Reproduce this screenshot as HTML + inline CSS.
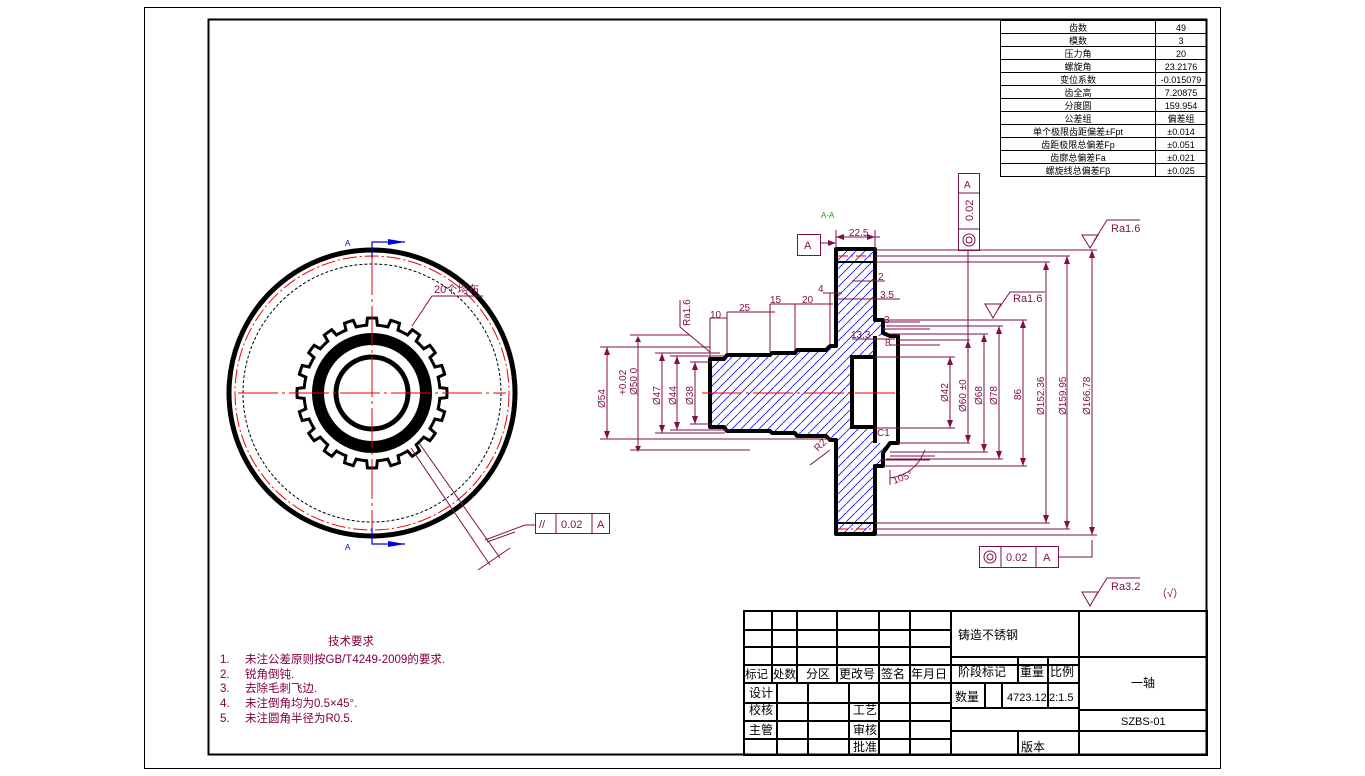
<!DOCTYPE html>
<html><head><meta charset="utf-8"><style>
html,body{margin:0;padding:0;background:#fff;}
svg{display:block;}
text{font-family:"Liberation Sans","Noto Sans CJK SC",sans-serif;}
</style></head><body>
<svg width="1365" height="776" viewBox="0 0 1365 776" xmlns="http://www.w3.org/2000/svg">
<defs>
<pattern id="h" patternUnits="userSpaceOnUse" width="9" height="9">
<line x1="-1" y1="10" x2="10" y2="-1" stroke="#1a1aff" stroke-width="0.9"/>
</pattern>
<path id="tooth" d="M-10.64,-67.16 A68 68 0 0 1 -5.34,-67.79 L-4.58,-74.86 A75 75 0 0 1 4.58,-74.86 L5.34,-67.79 A68 68 0 0 1 10.64,-67.16" fill="none" stroke="#000" stroke-width="3"/>
</defs>
<rect width="1365" height="776" fill="#fff"/>
<!-- frames -->
<rect x="144.5" y="7.5" width="1076" height="761" fill="none" stroke="#000" stroke-width="1"/>
<rect x="208.5" y="19.5" width="998" height="735" fill="none" stroke="#000" stroke-width="2"/>

<!-- parameter table -->
<g stroke="#000" stroke-width="1" fill="none">
<rect x="1000.5" y="20.5" width="206" height="156"/>
<line x1="1155.5" y1="20" x2="1155.5" y2="177"/>
<path d="M1000 33.5H1207M1000 46.5H1207M1000 59.5H1207M1000 72.5H1207M1000 85.5H1207M1000 98.5H1207M1000 111.5H1207M1000 124.5H1207M1000 137.5H1207M1000 150.5H1207M1000 163.5H1207"/>
</g>
<g font-size="9" fill="#000" text-anchor="middle">
<text x="1078" y="31">齿数</text><text x="1181" y="31">49</text>
<text x="1078" y="44">模数</text><text x="1181" y="44">3</text>
<text x="1078" y="57">压力角</text><text x="1181" y="57">20</text>
<text x="1078" y="70">螺旋角</text><text x="1181" y="70">23.2176</text>
<text x="1078" y="83">变位系数</text><text x="1181" y="83">-0.015079</text>
<text x="1078" y="96">齿全高</text><text x="1181" y="96">7.20875</text>
<text x="1078" y="109">分度圆</text><text x="1181" y="109">159.954</text>
<text x="1078" y="122">公差组</text><text x="1181" y="122">偏差组</text>
<text x="1078" y="135">单个极限齿距偏差±Fpt</text><text x="1181" y="135">±0.014</text>
<text x="1078" y="148">齿距极限总偏差Fp</text><text x="1181" y="148">±0.051</text>
<text x="1078" y="161">齿廓总偏差Fa</text><text x="1181" y="161">±0.021</text>
<text x="1078" y="174">螺旋线总偏差Fβ</text><text x="1181" y="174">±0.025</text>
</g>

<!-- title block -->
<g stroke="#000" stroke-width="2" fill="none">
<rect x="744" y="611" width="463" height="144"/>
<line x1="744" y1="630" x2="951" y2="630"/>
<line x1="744" y1="647" x2="951" y2="647"/>
<line x1="744" y1="665" x2="1079" y2="665"/>
<line x1="744" y1="683" x2="1079" y2="683"/>
<line x1="744" y1="703" x2="951" y2="703"/>
<line x1="744" y1="721" x2="951" y2="721"/>
<line x1="744" y1="739" x2="951" y2="739"/>
<path d="M772 611V683M797 611V683M837 611V683M879 611V755M910 611V755M951 611V755"/>
<path d="M777 683V755M808 683V755M849 683V755"/>
<line x1="1079" y1="611" x2="1079" y2="755"/>
<line x1="951" y1="657" x2="1207" y2="657"/>
<line x1="951" y1="708" x2="1079" y2="708"/>
<line x1="951" y1="731" x2="1079" y2="731"/>
<line x1="1079" y1="710" x2="1207" y2="710"/>
<line x1="1079" y1="731" x2="1207" y2="731"/>
<path d="M1018 657V683M1048 657V708M985 683V708M1002 683V708M1018 731V755"/>
</g>
<g font-size="12" fill="#000">
<text x="958" y="639">铸造不锈钢</text>
<text x="745" y="678" font-size="11.5">标记</text><text x="773" y="678" font-size="11.5">处数</text>
<text x="806" y="678">分区</text><text x="839" y="678">更改号</text><text x="881" y="678">签名</text><text x="911" y="678">年月日</text>
<text x="958" y="676">阶段标记</text><text x="1020" y="676">重量</text><text x="1050" y="676">比例</text>
<text x="1131" y="687">一轴</text>
<text x="749" y="697">设计</text><text x="749" y="714">校核</text><text x="749" y="734">主管</text>
<text x="853" y="714">工艺</text><text x="853" y="734">审核</text><text x="853" y="751">批准</text>
<text x="955" y="701">数量</text><text x="1007" y="701" font-size="11">4723.12</text><text x="1049" y="701" font-size="11">2:1.5</text>
<text x="1121" y="725" font-size="11">SZBS-01</text>
<text x="1021" y="751">版本</text>
</g>

<!-- technical requirements -->
<g font-size="11.5" fill="#800040">
<text x="328" y="645">技术要求</text>
<text x="220" y="663">1.</text><text x="245" y="663">未注公差原则按GB/T4249-2009的要求.</text>
<text x="220" y="678">2.</text><text x="245" y="678">锐角倒钝.</text>
<text x="220" y="692">3.</text><text x="245" y="692">去除毛刺飞边.</text>
<text x="220" y="707">4.</text><text x="245" y="707">未注倒角均为0.5×45°.</text>
<text x="220" y="722">5.</text><text x="245" y="722">未注圆角半径为R0.5.</text>
</g>

<!-- FRONT VIEW -->
<g>
<circle cx="372" cy="393" r="143" fill="none" stroke="#000" stroke-width="5"/>
<circle cx="372" cy="393" r="137" fill="none" stroke="#e00" stroke-width="1" stroke-dasharray="14 3 2 3"/>
<circle cx="372" cy="393" r="129" fill="none" stroke="#000" stroke-width="1" stroke-dasharray="3 2"/>
<circle cx="372" cy="393" r="54" fill="none" stroke="#000" stroke-width="12"/>
<circle cx="372" cy="393" r="36" fill="none" stroke="#000" stroke-width="5"/>
<g transform="translate(372 393)">
<use href="#tooth"/>
<use href="#tooth" transform="rotate(18)"/><use href="#tooth" transform="rotate(36)"/><use href="#tooth" transform="rotate(54)"/><use href="#tooth" transform="rotate(72)"/>
<use href="#tooth" transform="rotate(90)"/><use href="#tooth" transform="rotate(108)"/><use href="#tooth" transform="rotate(126)"/><use href="#tooth" transform="rotate(144)"/>
<use href="#tooth" transform="rotate(162)"/><use href="#tooth" transform="rotate(180)"/><use href="#tooth" transform="rotate(198)"/><use href="#tooth" transform="rotate(216)"/>
<use href="#tooth" transform="rotate(234)"/><use href="#tooth" transform="rotate(252)"/><use href="#tooth" transform="rotate(270)"/><use href="#tooth" transform="rotate(288)"/>
<use href="#tooth" transform="rotate(306)"/><use href="#tooth" transform="rotate(324)"/><use href="#tooth" transform="rotate(342)"/>
</g>
<line x1="238" y1="393" x2="506" y2="393" stroke="#e00" stroke-width="1" stroke-dasharray="40 4 3 4"/>
<line x1="372" y1="255" x2="372" y2="530" stroke="#e00" stroke-width="1" stroke-dasharray="40 4 3 4"/>
<!-- section arrows -->
<path d="M372 258V242H405M372 528V544H405" fill="none" stroke="#0000e0" stroke-width="1.2"/>
<path d="M388 239L405 242L388 245z M388 541L405 544L388 547z" fill="#0000e0"/>
<text x="345" y="246" font-size="8" fill="#0000e0">A</text>
<text x="345" y="550" font-size="8" fill="#0000e0">A</text>
<g stroke="#7f0f46" stroke-width="1" fill="none">
<path d="M483 296H432L412 326"/>
<path d="M411 448L490 565M419 443L500 558"/>
<path d="M485 540L525 525H535"/>
<path d="M478 570L510 548M487 542L515 532"/>
</g>
<text x="434" y="293" font-size="11" fill="#7f0f46">20个均布</text>
<rect x="535.5" y="513.5" width="74" height="20" fill="none" stroke="#7f0f46"/>
<path d="M556 513V534M592 513V534" stroke="#7f0f46"/>
<text x="539" y="528" font-size="11" fill="#7f0f46">//</text>
<text x="561" y="528" font-size="11" fill="#7f0f46">0.02</text>
<text x="597" y="528" font-size="11" fill="#7f0f46">A</text>
</g>

<!-- SECTION VIEW -->
<text x="821" y="218" font-size="8" fill="#0a0">A-A</text>
<g>
<path d="M710 359H724L727 355H770L772 353H795L797 350H826L830 346H836V249H875V320H883V333L890 336H875V357H852V427H875V443H890L883 453V466H875V534H836V440H830L826 436H797L795 433H772L770 431H727L724 427H710Z" fill="url(#h)" stroke="none"/>
<path d="M710 359H724L727 355H770L772 353H795L797 350H826L830 346H836V249H875V320H883V333L890 336H898V443H890L883 453V466H875V534H836V440H830L826 436H797L795 433H772L770 431H727L724 427H710Z" fill="none" stroke="#000" stroke-width="4" stroke-linejoin="round"/>
<rect x="852" y="357" width="23" height="70" fill="#fff" stroke="#000" stroke-width="4"/>
<line x1="875" y1="336" x2="875" y2="443" stroke="#000" stroke-width="4"/>
<line x1="836" y1="262" x2="875" y2="262" stroke="#000" stroke-width="2"/>
<line x1="836" y1="523" x2="875" y2="523" stroke="#000" stroke-width="2"/>
<line x1="838" y1="256" x2="873" y2="256" stroke="#e00" stroke-dasharray="10 3 2 3"/>
<line x1="838" y1="529" x2="873" y2="529" stroke="#e00" stroke-dasharray="10 3 2 3"/>
<line x1="702" y1="393" x2="900" y2="393" stroke="#e00" stroke-dasharray="40 4 3 4"/>
</g>

<!-- dimensions -->
<g stroke="#7f0f46" stroke-width="1" fill="none">
<path d="M875 250H1097M875 256H1070M875 262H1050M883 320H1027M886 326H1003M890 334H988M898 340H970M875 357H955M875 428H955M898 443H970M890 452H988M886 459H1003M883 466H1027M875 523H1050M875 529H1070M875 535H1097"/>
<path d="M1092 250V535M1067 256V529M1046 262V523M1023 320V466M999 326V459M984 334V452M968 250V443M950 357V428"/>
<path d="M600 347H710M600 439H830M630 335H690M630 450H750M655 353H720M655 433H725M670 356H725M670 430H730M690 362H712M690 424H712"/>
<path d="M607 347V439M638 340V450M662 353V433M677 356V430M695 362V424"/>
<path d="M836 237H880M836 230V249M875 230V249"/>
<path d="M820 243H836"/>
<path d="M710 318H727M710 318V357M727 312V354M727 312H775M770 304V352M770 304H800M795 304V350M795 304H833M830 293V345M823 293H842M836 299H878M852 281H885M862 299H900M885 322H920M883 329H930M852 339H895M890 345H940M890 456H935M880 460H930"/>
<path d="M680 327L710 352M680 327V300"/>
<path d="M890 478Q915 475 925 450M890 470V485"/>
<path d="M830 450L810 465"/>
<path d="M1082 235H1098L1090 248ZM1094 241L1107 220H1140"/>
<path d="M985 304H1001L993 318ZM997 311L1010 292H1045"/>
<path d="M1082 592H1098L1090 606ZM1094 599L1107 578H1140"/>
<path d="M1058 557H1092V540"/>
</g>
<g fill="#7f0f46">
<path d="M1089 258L1092 250L1095 258ZM1089 527L1092 535L1095 527ZM1064 264L1067 256L1070 264ZM1064 521L1067 529L1070 521ZM1043 270L1046 262L1049 270ZM1043 515L1046 523L1049 515ZM1020 328L1023 320L1026 328ZM1020 458L1023 466L1026 458ZM996 334L999 326L1002 334ZM996 451L999 459L1002 451ZM981 342L984 334L987 342ZM981 444L984 452L987 444ZM965 348L968 340L971 348ZM965 435L968 443L971 435ZM947 365L950 357L953 365ZM947 420L950 428L953 420Z"/>
<path d="M604 355L607 347L610 355ZM604 431L607 439L610 431ZM659 361L662 353L665 361ZM659 425L662 433L665 425ZM674 364L677 356L680 364ZM674 422L677 430L680 422ZM692 370L695 362L698 370ZM692 416L695 424L698 416ZM635 342L638 336L641 342ZM635 446L638 452L641 446Z"/>
<path d="M844 234L836 237L844 240ZM867 234L875 237L867 240ZM828 240L836 243L828 246Z"/>
</g>
<g font-size="10" fill="#7f0f46">
<text x="849" y="236">22.5</text>
<text x="710" y="318">10</text><text x="739" y="311">25</text><text x="770" y="303">15</text><text x="802" y="303">20</text>
<text x="818" y="292">4</text><text x="878" y="280">2</text><text x="880" y="298">3.5</text>
<text x="884" y="323">3</text><text x="851" y="338">13.3</text><text x="885" y="346">8</text>
<text x="877" y="436">C1</text>
<text x="818" y="452" transform="rotate(-45 818 452)">R2</text>
<text x="894" y="484" transform="rotate(-20 894 484)">105°</text>
<text x="1111" y="232" font-size="11">Ra1.6</text>
<text x="1013" y="302" font-size="11">Ra1.6</text>
<text x="1111" y="590" font-size="11">Ra3.2</text>
<text x="1156" y="597" font-size="11">（√）</text>
<text x="690" y="326" transform="rotate(-90 690 326)">Ra1.6</text>
<text x="605" y="408" transform="rotate(-90 605 408)">Ø54</text>
<text x="626" y="395" transform="rotate(-90 626 395)">+0.02</text>
<text x="637" y="395" transform="rotate(-90 637 395)">Ø50  0</text>
<text x="660" y="405" transform="rotate(-90 660 405)">Ø47</text>
<text x="676" y="405" transform="rotate(-90 676 405)">Ø44</text>
<text x="693" y="405" transform="rotate(-90 693 405)">Ø38</text>
<text x="948" y="402" transform="rotate(-90 948 402)">Ø42</text>
<text x="966" y="412" transform="rotate(-90 966 412)">Ø60 ±0</text>
<text x="982" y="405" transform="rotate(-90 982 405)">Ø68</text>
<text x="997" y="405" transform="rotate(-90 997 405)">Ø78</text>
<text x="1021" y="400" transform="rotate(-90 1021 400)">86</text>
<text x="1044" y="415" transform="rotate(-90 1044 415)">Ø152.36</text>
<text x="1066" y="415" transform="rotate(-90 1066 415)">Ø159.95</text>
<text x="1090" y="415" transform="rotate(-90 1090 415)">Ø166.78</text>
</g>
<rect x="797.5" y="234.5" width="23" height="21" fill="none" stroke="#7f0f46"/>
<text x="804" y="249" font-size="11" fill="#7f0f46">A</text>
<g stroke="#7f0f46" fill="none">
<rect x="958.5" y="173.5" width="21" height="77"/>
<path d="M958 193H980M958 229H980"/>
<circle cx="969" cy="240" r="6"/><circle cx="969" cy="240" r="3"/>
</g>
<text x="964" y="188" font-size="10" fill="#7f0f46">A</text>
<text x="973" y="221" font-size="11" fill="#7f0f46" transform="rotate(-90 973 221)">0.02</text>
<g stroke="#7f0f46" fill="none">
<rect x="979.5" y="546.5" width="79" height="21"/>
<path d="M1001 546V568M1036 546V568"/>
<circle cx="990" cy="557" r="6"/><circle cx="990" cy="557" r="3"/>
</g>
<text x="1006" y="561" font-size="11" fill="#7f0f46">0.02</text>
<text x="1043" y="561" font-size="11" fill="#7f0f46">A</text>
</svg>
</body></html>
